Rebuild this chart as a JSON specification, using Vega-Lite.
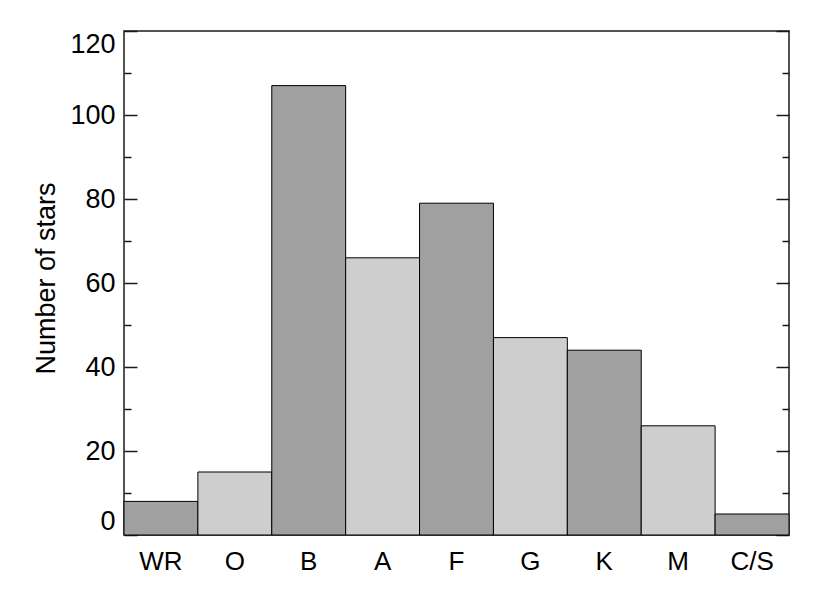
{
  "$schema": "https://vega.github.io/schema/vega-lite/v6.json",
  "autosize": "none",
  "padding": {"left": 124, "top": 31, "right": 41, "bottom": 59},
  "width": 665,
  "height": 504,
  "background": "white",
  "config": {
    "view": {"stroke": "#1a1a1a", "strokeWidth": 1.5},
    "font": "Liberation Sans",
    "axis": {"labelFont": "Liberation Sans", "titleFont": "Liberation Sans", "labelColor": "black", "titleColor": "black", "grid": false}
  },
  "data": {
    "values": [
      {"type": "WR", "count": 8, "group": "dark"},
      {"type": "O", "count": 15, "group": "light"},
      {"type": "B", "count": 107, "group": "dark"},
      {"type": "A", "count": 66, "group": "light"},
      {"type": "F", "count": 79, "group": "dark"},
      {"type": "G", "count": 47, "group": "light"},
      {"type": "K", "count": 44, "group": "dark"},
      {"type": "M", "count": 26, "group": "light"},
      {"type": "C/S", "count": 5, "group": "dark"}
    ]
  },
  "encoding": {
    "x": {
      "field": "type", "type": "nominal", "sort": null,
      "scale": {"paddingInner": 0, "paddingOuter": 0},
      "axis": {"title": null, "ticks": false, "domain": false, "labelAngle": 0, "labelFontSize": 26, "labelPadding": 13}
    }
  },
  "resolve": {"axis": {"y": "independent"}},
  "layer": [
    {
      "mark": {"type": "bar", "stroke": "black", "strokeWidth": 1},
      "encoding": {
        "y": {
          "field": "count", "type": "quantitative",
          "scale": {"domain": [0, 120], "nice": false},
          "axis": {
            "orient": "left",
            "title": "Number of stars",
            "titleFontSize": 27,
            "titleFontWeight": "normal",
            "titleAngle": -90,
            "titleBaseline": "alphabetic",
            "titleX": -70,
            "titleY": 247,
            "values": [0, 20, 40, 60, 80, 100, 120],
            "labelFontSize": 27,
            "labelFlush": true,
            "labelPadding": 22,
            "domain": false,
            "tickSize": -13,
            "tickColor": "#1a1a1a",
            "tickWidth": 1.5
          }
        },
        "color": {
          "field": "group", "type": "nominal",
          "scale": {"domain": ["dark", "light"], "range": ["#a0a0a0", "#cecece"]},
          "legend": null
        }
      }
    },
    {
      "mark": {"type": "bar", "opacity": 0},
      "encoding": {
        "y": {
          "field": "count", "type": "quantitative",
          "axis": {
            "orient": "left", "title": null, "labels": false, "domain": false,
            "values": [10, 30, 50, 70, 90, 110],
            "tickSize": -7, "tickColor": "#1a1a1a", "tickWidth": 1.5
          }
        }
      }
    },
    {
      "mark": {"type": "bar", "opacity": 0},
      "encoding": {
        "y": {
          "field": "count", "type": "quantitative",
          "axis": {
            "orient": "right", "title": null, "labels": false, "domain": false,
            "values": [0, 20, 40, 60, 80, 100, 120],
            "tickSize": -13, "tickColor": "#1a1a1a", "tickWidth": 1.5
          }
        }
      }
    },
    {
      "mark": {"type": "bar", "opacity": 0},
      "encoding": {
        "y": {
          "field": "count", "type": "quantitative",
          "axis": {
            "orient": "right", "title": null, "labels": false, "domain": false,
            "values": [10, 30, 50, 70, 90, 110],
            "tickSize": -7, "tickColor": "#1a1a1a", "tickWidth": 1.5
          }
        }
      }
    }
  ]
}
